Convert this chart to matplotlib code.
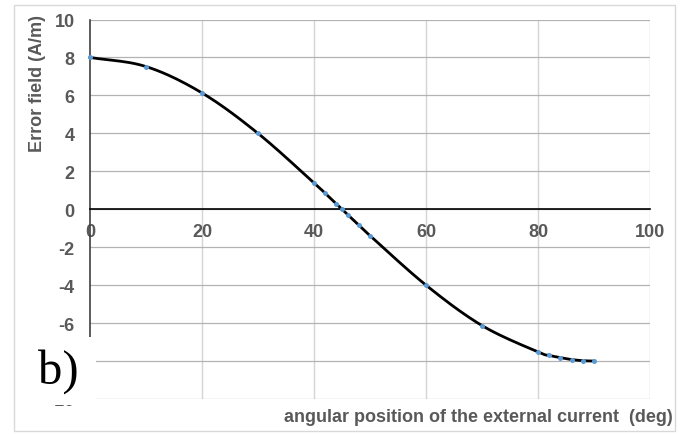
import numpy as np
import matplotlib
matplotlib.use("Agg")
import matplotlib.pyplot as plt
from matplotlib.patches import Rectangle

# Measured error field versus angular position of the external current
angle_deg = [0, 10, 20, 30, 40, 42, 44, 45, 46, 48, 50, 60, 70, 80, 82, 84, 86, 88, 90]
error_field = [8.0, 7.52, 6.13, 4.0, 1.39, 0.84, 0.28, 0.0, -0.28, -0.84, -1.39,
               -4.0, -6.13, -7.52, -7.7, -7.82, -7.92, -7.98, -8.0]

x_ticks = [0, 20, 40, 60, 80, 100]
y_ticks = [-10, -8, -6, -4, -2, 0, 2, 4, 6, 8, 10]
# the -8 label sits under the panel tag
y_tick_labels = ['-10', '', '-6', '-4', '-2', '0', '2', '4', '6', '8', '10']


def smooth_curve(x, y, n=20):
    """Catmull-Rom spline through the points, like a spreadsheet smoothed line."""
    x = np.asarray(x, float)
    y = np.asarray(y, float)
    px = np.concatenate([[2 * x[0] - x[1]], x, [2 * x[-1] - x[-2]]])
    py = np.concatenate([[2 * y[0] - y[1]], y, [2 * y[-1] - y[-2]]])
    xs, ys = [], []
    t = np.linspace(0, 1, n, endpoint=False)
    for i in range(1, len(px) - 2):
        p0, p1, p2, p3 = px[i - 1], px[i], px[i + 1], px[i + 2]
        q0, q1, q2, q3 = py[i - 1], py[i], py[i + 1], py[i + 2]
        for a, b, c, d, out in ((p0, p1, p2, p3, xs), (q0, q1, q2, q3, ys)):
            out.extend(0.5 * ((2 * b) + (-a + c) * t + (2 * a - 5 * b + 4 * c - d) * t ** 2
                              + (-a + 3 * b - 3 * c + d) * t ** 3))
    xs.append(x[-1])
    ys.append(y[-1])
    return np.array(xs), np.array(ys)


plt.rcParams['font.family'] = ['Liberation Sans', 'DejaVu Sans']
label_color = '#595959'
fs = 13

fig = plt.figure(figsize=(6.88, 4.35), dpi=100)
ax = fig.add_axes([90 / 688, 1 - 400 / 435, 560 / 688, 379.5 / 435])

ax.set_xlim(0, 100)
ax.set_ylim(-10, 10)
ax.set_xticks(x_ticks)
ax.set_yticks(y_ticks)
ax.set_yticklabels(y_tick_labels)

# gridlines
for xv in x_ticks[1:]:
    ax.axvline(xv, color='#D4D4D4', lw=1.0, zorder=0)
for yv in y_ticks:
    ax.axhline(yv, color='#B3B3B3', lw=0.9, zorder=0)

for s in ['top', 'right']:
    ax.spines[s].set_visible(False)
ax.spines['bottom'].set_position(('data', 0))
ax.spines['bottom'].set_color('black')
ax.spines['bottom'].set_linewidth(1.2)
ax.spines['left'].set_color('#404040')
ax.spines['left'].set_linewidth(1.2)

ax.tick_params(axis='both', length=0, labelsize=fs, labelcolor=label_color)
ax.tick_params(axis='x', pad=10)
ax.tick_params(axis='y', pad=11)
for lab in ax.get_xticklabels() + ax.get_yticklabels():
    lab.set_fontweight('bold')

sx, sy = smooth_curve(angle_deg, error_field)
ax.plot(sx, sy, color='black', lw=2.0, zorder=3, clip_on=False)
ax.plot(angle_deg, error_field, 'o', color='#5B9BD5', ms=3.6, mew=0, zorder=4, clip_on=False)

fig.text(37 / 688, 1 - 84 / 435, 'Error field (A/m)', rotation=90, ha='center', va='center',
         fontsize=fs, fontweight='bold', color=label_color)
fig.text(673 / 688, 1 - 418 / 435, 'angular position of the external current  (deg)',
         ha='right', va='center', fontsize=fs, fontweight='bold', color=label_color)

# outer chart frame
fig.patches.append(Rectangle((14 / 688, 1 - 432 / 435), 661 / 688, 426 / 435,
                             transform=fig.transFigure, fill=False,
                             edgecolor='#D9D9D9', lw=1.0, zorder=0))

# panel tag on a white patch
fig.patches.append(Rectangle((18 / 688, 1 - 406 / 435), 78 / 688, 68 / 435,
                             transform=fig.transFigure, facecolor='white',
                             edgecolor='none', zorder=10))
fig.text(38 / 688, 1 - 372 / 435, 'b)', ha='left', va='center', fontsize=35,
         family='Liberation Serif', color='black', zorder=11)

fig.savefig('out.png', dpi=100)
